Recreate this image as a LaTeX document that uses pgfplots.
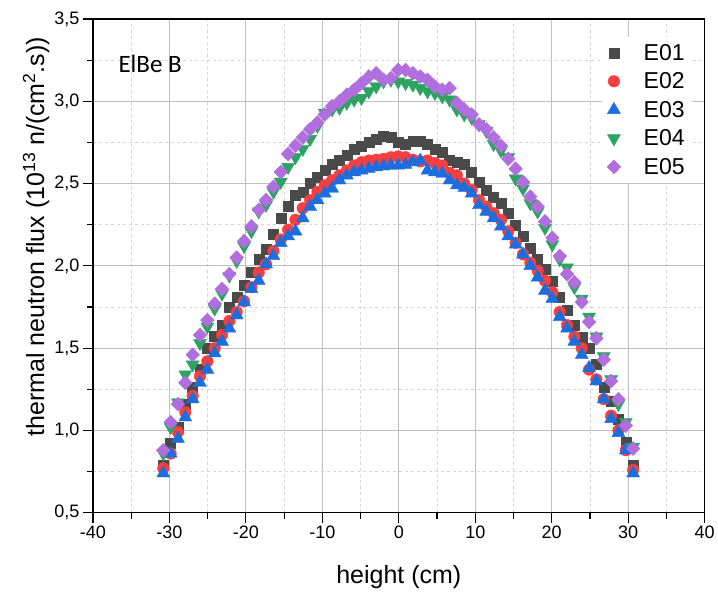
\documentclass[border=0pt]{standalone}
\usepackage{pgfplots}
\pgfplotsset{compat=1.18}
\usepackage{pgfplotstable}
\usepackage{fontspec}
\setmainfont{Liberation Sans}
\newfontfamily\calibri{Carlito}
\definecolor{cE1}{HTML}{4A4A4A}
\definecolor{cE2}{HTML}{F83F3F}
\definecolor{cE3}{HTML}{1C6EDF}
\definecolor{cE4}{HTML}{2CA461}
\definecolor{cE5}{HTML}{B06EDE}
\pgfplotstableread{
x e1 e2 e3 e4 e5
-30.80 0.79 0.77 0.74 0.86 0.88
-29.84 0.92 0.86 0.86 1.02 1.05
-28.88 1.02 0.99 0.95 1.17 1.16
-27.92 1.16 1.11 1.08 1.34 1.29
-26.96 1.26 1.21 1.19 1.40 1.46
-26.00 1.37 1.33 1.29 1.53 1.58
-25.04 1.50 1.42 1.37 1.63 1.67
-24.08 1.57 1.50 1.47 1.74 1.77
-23.12 1.64 1.58 1.54 1.83 1.86
-22.16 1.75 1.665 1.62 1.94 1.95
-21.20 1.81 1.72 1.70 2.03 2.05
-20.24 1.88 1.785 1.78 2.12 2.15
-19.28 1.96 1.87 1.86 2.21 2.24
-18.32 2.04 1.96 1.91 2.33 2.34
-17.36 2.10 2.01 2.01 2.37 2.40
-16.40 2.19 2.09 2.06 2.45 2.48
-15.44 2.29 2.16 2.14 2.51 2.57
-14.48 2.36 2.22 2.18 2.60 2.68
-13.52 2.43 2.28 2.21 2.66 2.73
-12.56 2.45 2.35 2.29 2.71 2.78
-11.60 2.50 2.40 2.36 2.77 2.83
-10.64 2.54 2.45 2.40 2.85 2.87
-9.68 2.58 2.49 2.44 2.93 2.92
-8.72 2.615 2.52 2.47 2.95 2.97
-7.76 2.645 2.55 2.52 2.96 3.00
-6.80 2.675 2.58 2.55 2.99 3.04
-5.84 2.71 2.61 2.57 3.01 3.07
-4.88 2.73 2.63 2.58 3.02 3.11
-3.92 2.75 2.64 2.59 3.06 3.15
-2.96 2.77 2.645 2.60 3.09 3.17
-2.00 2.785 2.65 2.605 3.12 3.13
-1.04 2.78 2.66 2.61 3.13 3.14
-0.08 2.75 2.665 2.61 3.12 3.19
0.88 2.74 2.66 2.615 3.11 3.19
1.84 2.755 2.645 2.63 3.10 3.17
2.80 2.76 2.635 2.64 3.08 3.15
3.76 2.74 2.64 2.58 3.06 3.13
4.72 2.71 2.625 2.57 3.05 3.09
5.68 2.69 2.61 2.56 3.03 3.07
6.64 2.64 2.565 2.52 3.01 3.08
7.60 2.63 2.55 2.49 2.95 2.99
8.56 2.615 2.50 2.475 2.92 2.95
9.52 2.57 2.46 2.44 2.90 2.92
10.48 2.51 2.40 2.37 2.86 2.86
11.44 2.46 2.36 2.33 2.82 2.83
12.40 2.42 2.32 2.29 2.74 2.78
13.36 2.38 2.28 2.24 2.70 2.73
14.32 2.32 2.21 2.18 2.66 2.65
15.28 2.25 2.14 2.13 2.53 2.59
16.24 2.18 2.07 2.07 2.47 2.51
17.20 2.11 2.02 2.00 2.38 2.42
18.16 2.04 1.97 1.93 2.33 2.36
19.12 1.98 1.91 1.85 2.23 2.27
20.08 1.905 1.84 1.80 2.13 2.17
21.04 1.81 1.72 1.69 2.04 2.06
22.00 1.73 1.64 1.62 1.99 1.95
22.96 1.64 1.57 1.54 1.87 1.90
23.92 1.565 1.50 1.46 1.80 1.78
24.88 1.50 1.37 1.38 1.69 1.66
25.84 1.40 1.31 1.30 1.57 1.56
26.80 1.26 1.19 1.19 1.45 1.43
27.76 1.18 1.09 1.07 1.31 1.30
28.72 1.07 1.00 0.985 1.16 1.19
29.68 0.93 0.88 0.88 1.05 1.03
30.64 0.79 0.76 0.74 0.90 0.89
}\datatable
\begin{document}
\begin{tikzpicture}
\begin{axis}[
  scale only axis,
  width=612pt, height=494pt,
  at={(0pt,0pt)}, anchor=south west,
  xmin=-40, xmax=40, ymin=0.5, ymax=3.5,
  xtick={-40,-30,...,40},
  ytick={0.5,1.0,...,3.5},
  minor x tick num=1, minor y tick num=1,
  tick pos=left, tick align=outside,
  major tick length=10pt, minor tick length=6pt,
  every tick/.style={black, line width=1.1pt},
  axis line style={black, line width=1.3pt},
  grid=both,
  major grid style={solid, color=black!25, line width=0.9pt},
  minor grid style={dashed, color=black!16, line width=0.8pt},
  /pgf/number format/assume math mode=true,
  yticklabel style={/pgf/number format/.cd, fixed, fixed zerofill, precision=1, use comma},
  xticklabel style={/pgf/number format/.cd, fixed},
  tick label style={font=\fontsize{18}{20}\selectfont},
  label style={font=\fontsize{25}{28}\selectfont},
  xlabel={height (cm)},
  ylabel={thermal neutron flux (10\textsuperscript{13} n/(cm\textsuperscript{2}.s))},
  xlabel style={at={(axis description cs:0.5,-0.1296)}, anchor=center},
  ylabel style={at={(axis description cs:-0.0931,0.559)}, anchor=center},
  legend style={draw=none, fill=white, font=\fontsize{23}{25}\selectfont,
    at={(axis description cs:0.979,0.964)}, anchor=north east,
    row sep=7pt, inner sep=5pt,
    /tikz/every odd column/.append style={column sep=21pt}},
  legend cell align=left,
  clip=false,
]
\addplot[only marks, mark=square*, mark size=5pt, color=cE1] table[x=x,y=e1]{\datatable};
\addlegendentry{E01}
\addplot[only marks, mark=*, mark size=5.8pt, color=cE2] table[x=x,y=e2]{\datatable};
\addlegendentry{E02}
\addplot[only marks, mark=triangle*, mark size=7.5pt, color=cE3] table[x=x,y=e3]{\datatable};
\addlegendentry{E03}
\addplot[only marks, mark=triangle*, mark size=7.5pt, mark options={rotate=180}, color=cE4] table[x=x,y=e4]{\datatable};
\addlegendentry{E04}
\addplot[only marks, mark=diamond*, mark size=7pt, mark options={xscale=1.3}, color=cE5] table[x=x,y=e5]{\datatable};
\addlegendentry{E05}
\node[anchor=west, font=\calibri\fontsize{25}{28}\selectfont] at (axis description cs:0.036,0.91) {ElBe B};
\end{axis}
\path (-93pt,-82pt) rectangle (625pt,513pt);
\end{tikzpicture}
\end{document}
